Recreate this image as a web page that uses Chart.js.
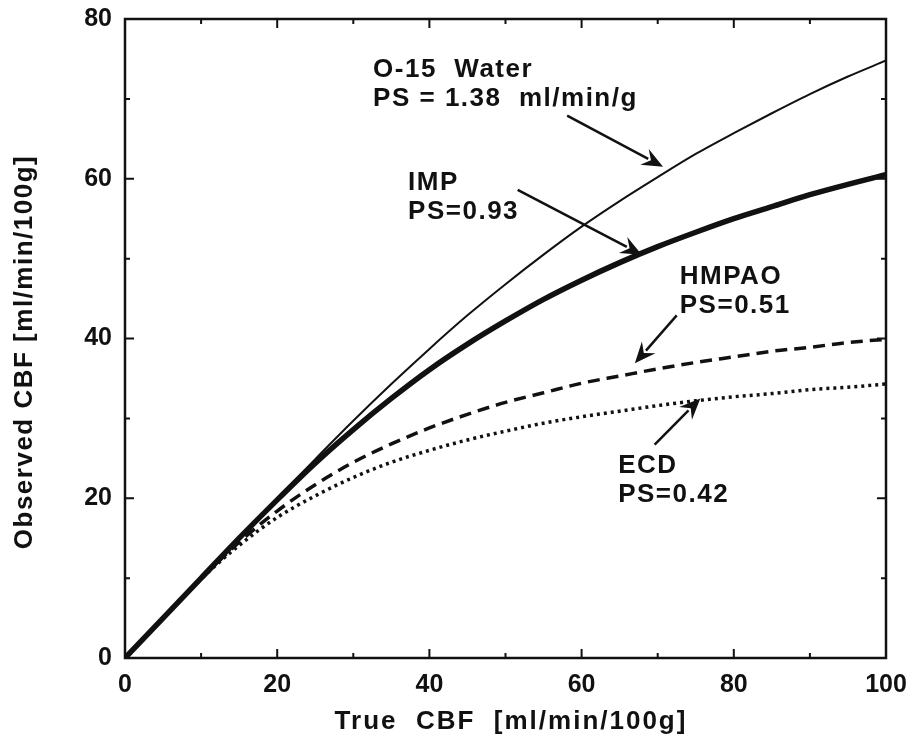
<!DOCTYPE html>
<html>
<head>
<meta charset="utf-8">
<script src="https://cdn.jsdelivr.net/npm/chart.js@4.4.1/dist/chart.umd.min.js"></script>
<style>
  html, body { margin: 0; padding: 0; background: #fff; }
  #wrap { width: 909px; height: 744px; }
</style>
</head>
<body>
<div id="wrap"><canvas id="cbf" width="909" height="744"></canvas></div>
<script>
// true flow (x) and observed flow for each tracer
const trueCBF  = [0, 5, 10, 15, 20, 25, 30, 35, 40, 45, 50, 55, 60, 65, 70, 75, 80, 85, 90, 95, 100];
const o15Water = [0, 5.0, 10.0, 15.0, 20.0, 24.9, 29.7, 34.3, 38.7, 42.9, 46.8, 50.5, 54.0, 57.2, 60.2, 63.1, 65.7, 68.2, 70.6, 72.8, 74.8];
const imp      = [0, 5.0, 10.0, 15.0, 19.8, 24.4, 28.6, 32.5, 36.1, 39.3, 42.2, 44.9, 47.3, 49.5, 51.5, 53.3, 55.0, 56.5, 58.0, 59.3, 60.5];
const hmpao    = [0, 5.0, 9.9, 14.5, 18.4, 21.7, 24.5, 26.8, 28.8, 30.5, 32.0, 33.2, 34.4, 35.3, 36.2, 37.0, 37.7, 38.4, 38.9, 39.5, 39.9];
const ecd      = [0, 5.0, 9.9, 14.1, 17.6, 20.3, 22.6, 24.5, 26.0, 27.3, 28.4, 29.4, 30.2, 30.9, 31.6, 32.2, 32.7, 33.1, 33.6, 33.9, 34.3];

const xTitle = "True  CBF  [ml/min/100g]";
const yTitle = "Observed CBF [ml/min/100g]";

// callout labels and arrows, in data units
const notes = [
  { lines: ["O-15  Water", "PS = 1.38  ml/min/g"], x: 32.6, y: 72.8, from: [58.1, 67.9], to: [70.7, 61.5] },
  { lines: ["IMP", "PS=0.93"], x: 37.2, y: 58.6, from: [51.6, 58.6], to: [67.9, 50.5] },
  { lines: ["HMPAO", "PS=0.51"], x: 72.9, y: 46.8, from: [72.5, 42.9], to: [67.0, 36.9] },
  { lines: ["ECD", "PS=0.42"], x: 64.8, y: 23.2, from: [69.6, 26.7], to: [75.6, 32.5] },
];

const FONT = "'Liberation Sans', Arial, sans-serif";

const pairs = ys => trueCBF.map((x, i) => ({ x: x, y: ys[i] }));

const boxAndTicks = {
  id: "boxAndTicks",
  afterDraw(chart) {
    const { ctx, chartArea: a, scales } = chart;
    const xs = scales.x, ys = scales.y;
    ctx.save();
    ctx.strokeStyle = "#111";
    ctx.lineWidth = 2.5;
    ctx.strokeRect(a.left, a.top, a.right - a.left, a.bottom - a.top);

    ctx.lineWidth = 2;
    ctx.beginPath();
    for (let v = 0; v <= 100; v += 10) {
      const p = xs.getPixelForValue(v);
      const len = v % 20 === 0 ? 9 : 5;
      ctx.moveTo(p, a.bottom); ctx.lineTo(p, a.bottom - len);
      ctx.moveTo(p, a.top); ctx.lineTo(p, a.top + len);
    }
    for (let v = 0; v <= 80; v += 10) {
      const p = ys.getPixelForValue(v);
      const len = v % 20 === 0 ? 9 : 5;
      ctx.moveTo(a.left, p); ctx.lineTo(a.left + len, p);
      ctx.moveTo(a.right, p); ctx.lineTo(a.right - len, p);
    }
    ctx.stroke();

    // callouts
    ctx.fillStyle = "#111";
    ctx.font = "bold 26px " + FONT;
    ctx.letterSpacing = "1.5px";
    ctx.textBaseline = "alphabetic";
    notes.forEach(n => {
      const tx = xs.getPixelForValue(n.x), ty = ys.getPixelForValue(n.y);
      n.lines.forEach((s, i) => ctx.fillText(s, tx, ty + i * 29));

      const x0 = xs.getPixelForValue(n.from[0]), y0 = ys.getPixelForValue(n.from[1]);
      const x1 = xs.getPixelForValue(n.to[0]), y1 = ys.getPixelForValue(n.to[1]);
      const ang = Math.atan2(y1 - y0, x1 - x0);
      const hl = 21, hw = 9;
      const c = Math.cos(ang), s = Math.sin(ang);
      ctx.lineWidth = 2.5;
      ctx.beginPath();
      ctx.moveTo(x0, y0);
      ctx.lineTo(x1 - c * hl * 0.8, y1 - s * hl * 0.8);
      ctx.stroke();
      ctx.beginPath();
      ctx.moveTo(x1, y1);
      ctx.lineTo(x1 - c * hl - s * hw, y1 - s * hl + c * hw);
      ctx.lineTo(x1 - c * hl * 0.65, y1 - s * hl * 0.65);
      ctx.lineTo(x1 - c * hl + s * hw, y1 - s * hl - c * hw);
      ctx.closePath();
      ctx.fill();
    });

    // axis titles
    ctx.font = "bold 26px " + FONT;
    ctx.textAlign = "center";
    ctx.textBaseline = "middle";
    ctx.letterSpacing = "2px";
    ctx.fillText(xTitle, 511, 722);
    ctx.letterSpacing = "1.5px";
    ctx.translate(25, 352);
    ctx.rotate(-Math.PI / 2);
    ctx.fillText(yTitle, 0, 0);
    ctx.restore();
  },
};

const ctx = document.getElementById("cbf").getContext("2d");

new Chart(ctx, {
  type: "line",
  data: {
    datasets: [
      { label: "O-15 Water", data: pairs(o15Water), borderColor: "#111", borderWidth: 2 },
      { label: "IMP", data: pairs(imp), borderColor: "#111", borderWidth: 5.5 },
      { label: "HMPAO", data: pairs(hmpao), borderColor: "#111", borderWidth: 3.5, borderDash: [12, 7] },
      { label: "ECD", data: pairs(ecd), borderColor: "#111", borderWidth: 3.5, borderDash: [3, 4] },
    ],
  },
  options: {
    responsive: false,
    animation: false,
    layout: {
      padding: { top: 19, right: 23, left: 0, bottom: 0 },
    },
    elements: {
      line: { tension: 0.4, cubicInterpolationMode: "monotone", fill: false },
      point: { radius: 0 },
    },
    plugins: {
      legend: { display: false },
      tooltip: { enabled: false },
      title: { display: false },
    },
    scales: {
      x: {
        type: "linear",
        min: 0,
        max: 100,
        grid: { display: false, drawTicks: false },
        border: { display: false },
        ticks: { stepSize: 20, padding: 12, color: "#111", font: { family: FONT, size: 25, weight: "bold" }, maxRotation: 0 },
        afterFit: s => { s.height = 86; s.paddingLeft = 0; s.paddingRight = 0; },
      },
      y: {
        min: 0,
        max: 80,
        grid: { display: false, drawTicks: false },
        border: { display: false },
        ticks: { stepSize: 20, padding: 13, color: "#111", font: { family: FONT, size: 25, weight: "bold" } },
        afterFit: s => { s.width = 125; s.paddingTop = 0; s.paddingBottom = 0; },
      },
    },
  },
  plugins: [boxAndTicks],
});
</script>
</body>
</html>
